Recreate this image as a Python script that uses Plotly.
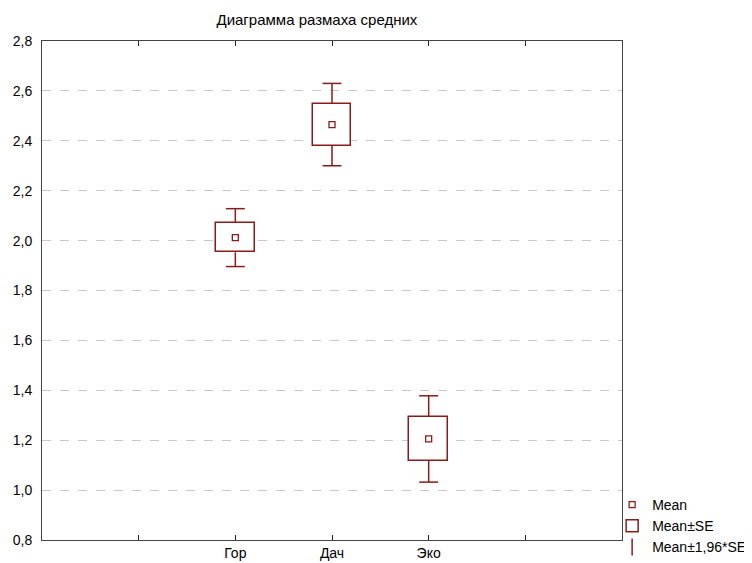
import plotly.graph_objects as go

categories = ["Гор", "Дач", "Эко"]
means = [2.012, 2.465, 1.205]
se = [0.059, 0.084, 0.088]
ci = [0.116, 0.165, 0.173]  # 1.96*SE, read from whiskers

title_text = "Диаграмма размаха средних"
y_ticks = [0.8, 1.0, 1.2, 1.4, 1.6, 1.8, 2.0, 2.2, 2.4, 2.6, 2.8]

RED = "#8b1a1a"
BOX_W = 0.4
CAP_HALF = 0.098

xpos = [i + 1 for i in range(len(categories))]
box_low = [m - s for m, s in zip(means, se)]
box_high = [m + s for m, s in zip(means, se)]
wh_low = [m - c for m, c in zip(means, ci)]
wh_high = [m + c for m, c in zip(means, ci)]

# whisker polylines (stems + caps) built from the data arrays
wx, wy = [], []
for x, bl, bh, lo, hi in zip(xpos, box_low, box_high, wh_low, wh_high):
    wx += [x, x, None, x - CAP_HALF, x + CAP_HALF, None,
           x, x, None, x - CAP_HALF, x + CAP_HALF, None]
    wy += [bh, hi, None, hi, hi, None,
           bl, lo, None, lo, lo, None]

fig = go.Figure()

# Mean ± SE boxes
fig.add_trace(go.Bar(
    x=xpos, y=[2 * s for s in se], base=box_low, width=BOX_W,
    marker=dict(color="white", line=dict(color=RED, width=1.5)),
    name="Mean±SE", legendrank=2, hoverinfo="skip",
))

# Whiskers
fig.add_trace(go.Scatter(
    x=wx, y=wy, mode="lines", line=dict(color=RED, width=1.5),
    showlegend=False, hoverinfo="skip",
))

# Means
fig.add_trace(go.Scatter(
    x=xpos, y=means, mode="markers",
    marker=dict(symbol="square", size=6, color="white", line=dict(color=RED, width=1.3)),
    name="Mean", legendrank=1,
))

# legend entry for whiskers
fig.add_trace(go.Scatter(
    x=[None], y=[None], mode="markers",
    marker=dict(symbol="line-ns-open", size=12, color=RED, line=dict(color=RED, width=1.5)),
    name="Mean±1,96*SE", legendrank=3,
))

# page has an 8px body margin, so the figure is 8px smaller than the window
fig.update_layout(
    width=744, height=555,
    margin=dict(l=34, r=130, t=33, b=23, autoexpand=False),
    paper_bgcolor="white", plot_bgcolor="white",
    separators=", ",
    font=dict(family="Liberation Sans, Arial, sans-serif", size=12, color="black"),
    title=dict(text=title_text, x=0.474, xref="paper", xanchor="center",
               y=0.978, yref="container", yanchor="middle", font=dict(size=15)),
    showlegend=True,
    legend=dict(x=0.812, y=0.0, xref="container", yref="container",
                xanchor="left", yanchor="bottom",
                bgcolor="rgba(0,0,0,0)", font=dict(size=14),
                traceorder="normal", tracegroupgap=0, itemwidth=30),
    bargap=0,
)
fig.update_xaxes(
    range=[-1, 5], tickmode="array", tickvals=[0] + xpos + [4],
    ticktext=[""] + categories + [""],
    ticks="inside", ticklen=5, tickcolor="#222",
    showline=True, linecolor="#444", linewidth=1, mirror="ticks",
    showgrid=False, zeroline=False, tickfont=dict(size=14), automargin=False,
)
fig.update_yaxes(
    range=[0.8, 2.8], tickmode="array", tickvals=y_ticks, tickformat=".1f",
    ticks="", showline=True, linecolor="#444", linewidth=1, mirror=True,
    showgrid=True, gridcolor="#c8c8c8", griddash="dash", gridwidth=1,
    zeroline=False, tickfont=dict(size=14), ticklabelstandoff=6, automargin=False,
)

fig.write_html("out.html")
